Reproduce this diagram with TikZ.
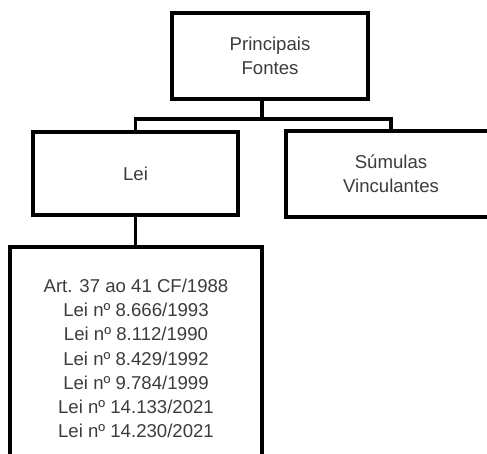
\documentclass[tikz,border=0pt]{standalone}
\usepackage{fontspec}
\setmainfont{Liberation Sans}
\usepackage{xcolor}
\usepackage{tikz}
\usetikzlibrary{calc}

\definecolor{txtgray}{HTML}{3C3C3C}

\begin{document}
\begin{tikzpicture}[x=1pt, y=-1pt,
                box/.style={draw=black, line width=3.2pt, fill=white, text=txtgray,
                    align=center, inner sep=0pt,
                    font=\fontsize{18.6}{24.2}\selectfont},
                link/.style={draw=black, line width=3.2pt}]
		\useasboundingbox (0,0) rectangle (487,454);
		\clip (0,0) rectangle (487,454);
		\begin{scope}
			\node [box, minimum width=196pt, minimum height=86pt] (fontes) at (270,56) {Principais\\Fontes};
			\node [box, minimum width=205pt, minimum height=83pt] (lei) at (135.5,173.5) {Lei};
			\node [box, minimum width=210pt, minimum height=86pt] (sumulas) at (391,174) {Súmulas\\Vinculantes};
			\node [box, minimum width=252pt, minimum height=223pt] (leis) at (136,358.5)
			    {Art. 37 ao 41 CF/1988\\Lei nº 8.666/1993\\Lei nº 8.112/1990\\Lei nº 8.429/1992\\Lei nº 9.784/1999\\Lei nº 14.133/2021\\Lei nº 14.230/2021};
			\coordinate (bus) at (262,119);

			\draw [link] (bus |- fontes.south) -- (bus);
			\draw [link] (lei.north) |- (bus) -| (sumulas.north);
			\draw [link] (lei.south) -- (lei.south |- leis.north);
		\end{scope}
		\end{tikzpicture}
\end{document}
